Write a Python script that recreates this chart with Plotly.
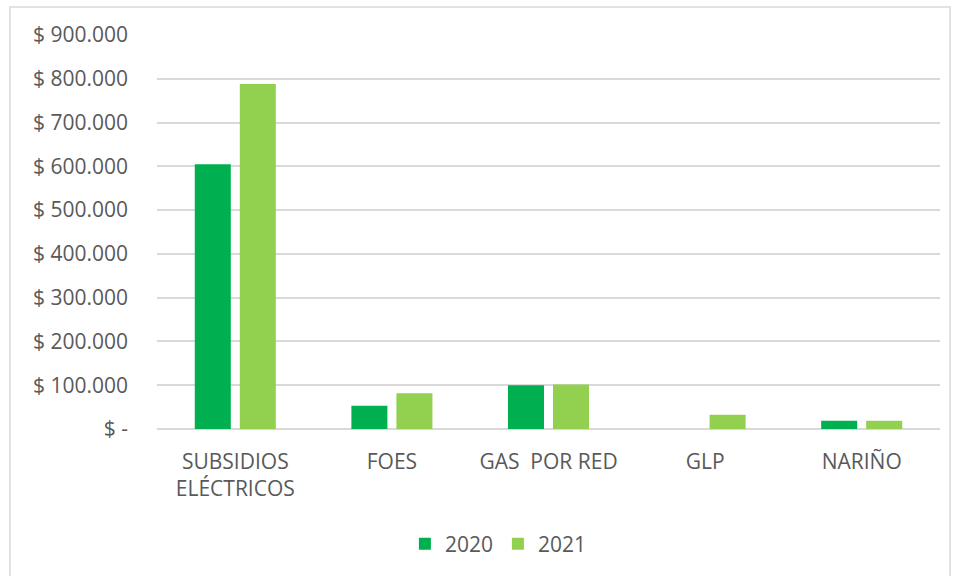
import plotly.graph_objects as go

categories = ["SUBSIDIOS<br>ELÉCTRICOS", "FOES", "GAS  POR RED", "GLP", "NARIÑO"]
values_2020 = [604500, 53000, 99800, 0, 19000]
values_2021 = [788000, 81500, 101400, 32700, 18700]
series_names = ["2020", "2021"]
tick_values = [0, 100000, 200000, 300000, 400000, 500000, 600000, 700000, 800000, 900000]
tick_labels = ["$ -", "$ 100.000", "$ 200.000", "$ 300.000", "$ 400.000",
               "$ 500.000", "$ 600.000", "$ 700.000", "$ 800.000", "$ 900.000"]

font_family = "Open Sans, Noto Sans, sans-serif"
text_color = "#595959"

fig = go.Figure()
fig.add_trace(go.Bar(x=categories, y=values_2020, name=series_names[0],
                     marker=dict(color="#00B050", line=dict(width=0))))
fig.add_trace(go.Bar(x=categories, y=values_2021, name=series_names[1],
                     marker=dict(color="#92D050", line=dict(width=0))))

fig.update_layout(
    width=956, height=576,
    margin=dict(l=157, r=16, t=35, b=147),
    paper_bgcolor="white", plot_bgcolor="white",
    barmode="group", bargap=0.425, bargroupgap=0.2,
    font=dict(family=font_family, size=21, color=text_color),
    showlegend=True,
    legend=dict(orientation="h", x=0.436, xanchor="center", y=-0.292, yanchor="middle",
                font=dict(size=21, color=text_color), itemwidth=30, traceorder="normal"),
    xaxis=dict(showgrid=False, showline=False, ticks="", ticklabelstandoff=18,
               tickfont=dict(size=21, color=text_color)),
    yaxis=dict(range=[0, 900000], tickvals=tick_values, ticktext=tick_labels,
               showgrid=True, gridcolor="#D9D9D9", gridwidth=1.5,
               zeroline=True, zerolinecolor="#D9D9D9", zerolinewidth=1.5,
               showline=False, ticks="", ticklabelstandoff=28,
               tickfont=dict(size=21, color=text_color)),
    shapes=[dict(type="rect", xref="paper", yref="paper",
                 x0=(10 - 157) / 783, x1=(950 - 157) / 783,
                 y0=-0.5, y1=1 + (35 - 7) / 394,
                 line=dict(color="#D9D9D9", width=1.5), fillcolor="rgba(0,0,0,0)",
                 layer="below")],
)

fig.write_html("out.html", config={"displayModeBar": False},
               post_script="document.body.style.margin='0px';")
